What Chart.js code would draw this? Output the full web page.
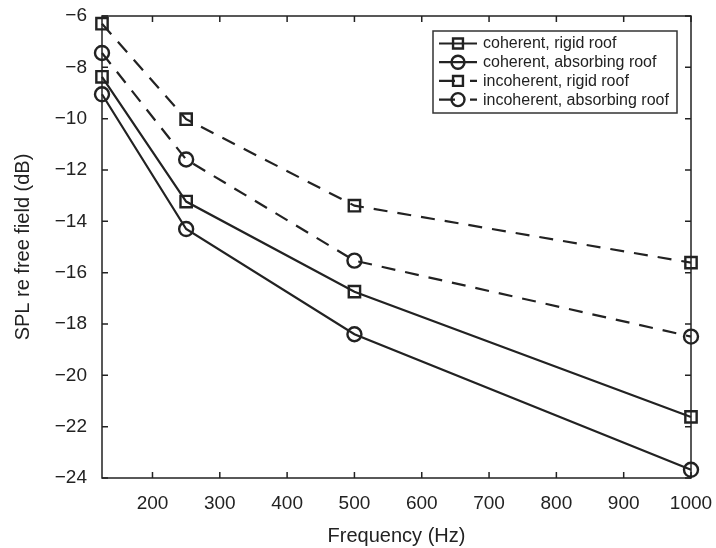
<!DOCTYPE html>
<html>
<head>
<meta charset="utf-8">
<script src="https://cdn.jsdelivr.net/npm/chart.js@4"></script>
<style>
  html, body { margin: 0; padding: 0; background: #fff; }
  #wrap { width: 716px; height: 548px; }
</style>
</head>
<body>
<div id="wrap"><canvas id="splChart" width="716" height="548"></canvas></div>
<script>
// Frequencies (Hz) and SPL values (dB re free field)
const freqs = [125, 250, 500, 1000];
const coherentRigid = [-8.37, -13.23, -16.74, -21.62];
const coherentAbsorbing = [-9.05, -14.3, -18.4, -23.68];
const incoherentRigid = [-6.3, -10.02, -13.39, -15.61];
const incoherentAbsorbing = [-7.44, -11.59, -15.53, -18.49];

const xTicks = [200, 300, 400, 500, 600, 700, 800, 900, 1000];
const yTicks = [-24, -22, -20, -18, -16, -14, -12, -10, -8, -6];

const ink = "#222";
const fontFamily = "'Liberation Sans', Arial, Helvetica, sans-serif";

function toPoints(values) {
  return freqs.map((f, i) => ({ x: f, y: values[i] }));
}

function series(label, values, pointStyle, dashed) {
  return {
    label: label,
    data: toPoints(values),
    borderColor: ink,
    borderWidth: 2.2,
    borderDash: dashed ? [14, 10] : [],
    pointStyle: pointStyle,
    pointRadius: pointStyle === "rect" ? 8 : 7,
    pointBorderWidth: 2.4,
    pointBorderColor: ink,
    pointBackgroundColor: "rgba(0,0,0,0)",
    fill: false,
    tension: 0,
    clip: false,
  };
}

// Box around the plot area, with MATLAB style inward ticks on all four sides
const boxAndTicks = {
  id: "boxAndTicks",
  beforeDatasetsDraw(chart) {
    const { ctx, chartArea: a, scales } = chart;
    const len = 6;
    ctx.save();
    ctx.strokeStyle = ink;
    ctx.lineWidth = 1.5;
    ctx.strokeRect(a.left, a.top, a.right - a.left, a.bottom - a.top);
    ctx.beginPath();
    xTicks.forEach((v) => {
      const px = scales.x.getPixelForValue(v);
      ctx.moveTo(px, a.bottom);
      ctx.lineTo(px, a.bottom - len);
      ctx.moveTo(px, a.top);
      ctx.lineTo(px, a.top + len);
    });
    yTicks.forEach((v) => {
      const py = scales.y.getPixelForValue(v);
      ctx.moveTo(a.left, py);
      ctx.lineTo(a.left + len, py);
      ctx.moveTo(a.right, py);
      ctx.lineTo(a.right - len, py);
    });
    ctx.stroke();
    ctx.restore();
  },
};

// Boxed legend in the top right corner
const boxedLegend = {
  id: "boxedLegend",
  afterDraw(chart) {
    const { ctx } = chart;
    const left = 433, top = 31, width = 244, height = 82;
    const rowH = 18.7;
    ctx.save();
    ctx.fillStyle = "#fff";
    ctx.fillRect(left, top, width, height);
    ctx.strokeStyle = "#333";
    ctx.lineWidth = 1.5;
    ctx.strokeRect(left, top, width, height);
    ctx.font = "16px " + fontFamily;
    ctx.textBaseline = "middle";
    chart.data.datasets.forEach((ds, i) => {
      const y = top + 12.5 + i * rowH;
      ctx.strokeStyle = ink;
      ctx.lineWidth = 2.2;
      // dashed entries: solid lead-in, gap after the marker, short dash
      ctx.setLineDash(ds.borderDash.length ? [16, 15, 8, 100] : []);
      ctx.beginPath();
      ctx.moveTo(439, y);
      ctx.lineTo(477, y);
      ctx.stroke();
      ctx.setLineDash([]);
      ctx.lineWidth = 2.4;
      ctx.beginPath();
      if (ds.pointStyle === "rect") {
        const s = 7 * Math.SQRT1_2;
        ctx.rect(458 - s, y - s, 2 * s, 2 * s);
      } else {
        ctx.arc(458, y, 6.5, 0, Math.PI * 2);
      }
      ctx.stroke();
      ctx.fillStyle = ink;
      ctx.fillText(ds.label, 483, y + 0.5);
    });
    ctx.restore();
  },
};

const minus = (v) => String(v).replace("-", "\u2212");

const ctx = document.getElementById("splChart").getContext("2d");
new Chart(ctx, {
  type: "line",
  data: {
    datasets: [
      series("coherent, rigid roof", coherentRigid, "rect", false),
      series("coherent, absorbing roof", coherentAbsorbing, "circle", false),
      series("incoherent, rigid roof", incoherentRigid, "rect", true),
      series("incoherent, absorbing roof", incoherentAbsorbing, "circle", true),
    ],
  },
  options: {
    responsive: false,
    animation: false,
    devicePixelRatio: 1,
    layout: { padding: { top: 16, right: 25, left: 0, bottom: 0 } },
    plugins: {
      legend: { display: false },
      tooltip: { enabled: false },
    },
    scales: {
      x: {
        type: "linear",
        min: 125,
        max: 1000,
        afterBuildTicks: (scale) => {
          scale.ticks = xTicks.map((v) => ({ value: v }));
        },
        afterFit: (scale) => {
          scale.height = 70;
          scale.paddingLeft = 0;
          scale.paddingRight = 0;
        },
        grid: { display: false, drawTicks: false },
        border: { display: false },
        ticks: {
          color: ink,
          padding: 14,
          maxRotation: 0,
          autoSkip: false,
          font: { family: fontFamily, size: 19 },
          callback: (v) => minus(v),
        },
        title: {
          display: true,
          text: "Frequency (Hz)",
          color: ink,
          font: { family: fontFamily, size: 20 },
          padding: { top: 0, bottom: 0 },
        },
      },
      y: {
        type: "linear",
        min: -24,
        max: -6,
        afterBuildTicks: (scale) => {
          scale.ticks = yTicks.map((v) => ({ value: v }));
        },
        afterFit: (scale) => {
          scale.width = 102;
          scale.paddingTop = 0;
          scale.paddingBottom = 0;
        },
        grid: { display: false, drawTicks: false },
        border: { display: false },
        ticks: {
          color: ink,
          padding: 15,
          autoSkip: false,
          font: { family: fontFamily, size: 19 },
          callback: (v) => minus(v),
        },
        title: {
          display: true,
          text: "SPL re free field (dB)",
          color: ink,
          font: { family: fontFamily, size: 20 },
          padding: { top: 11, bottom: 0 },
        },
      },
    },
  },
  plugins: [boxAndTicks, boxedLegend],
});
</script>
</body>
</html>
